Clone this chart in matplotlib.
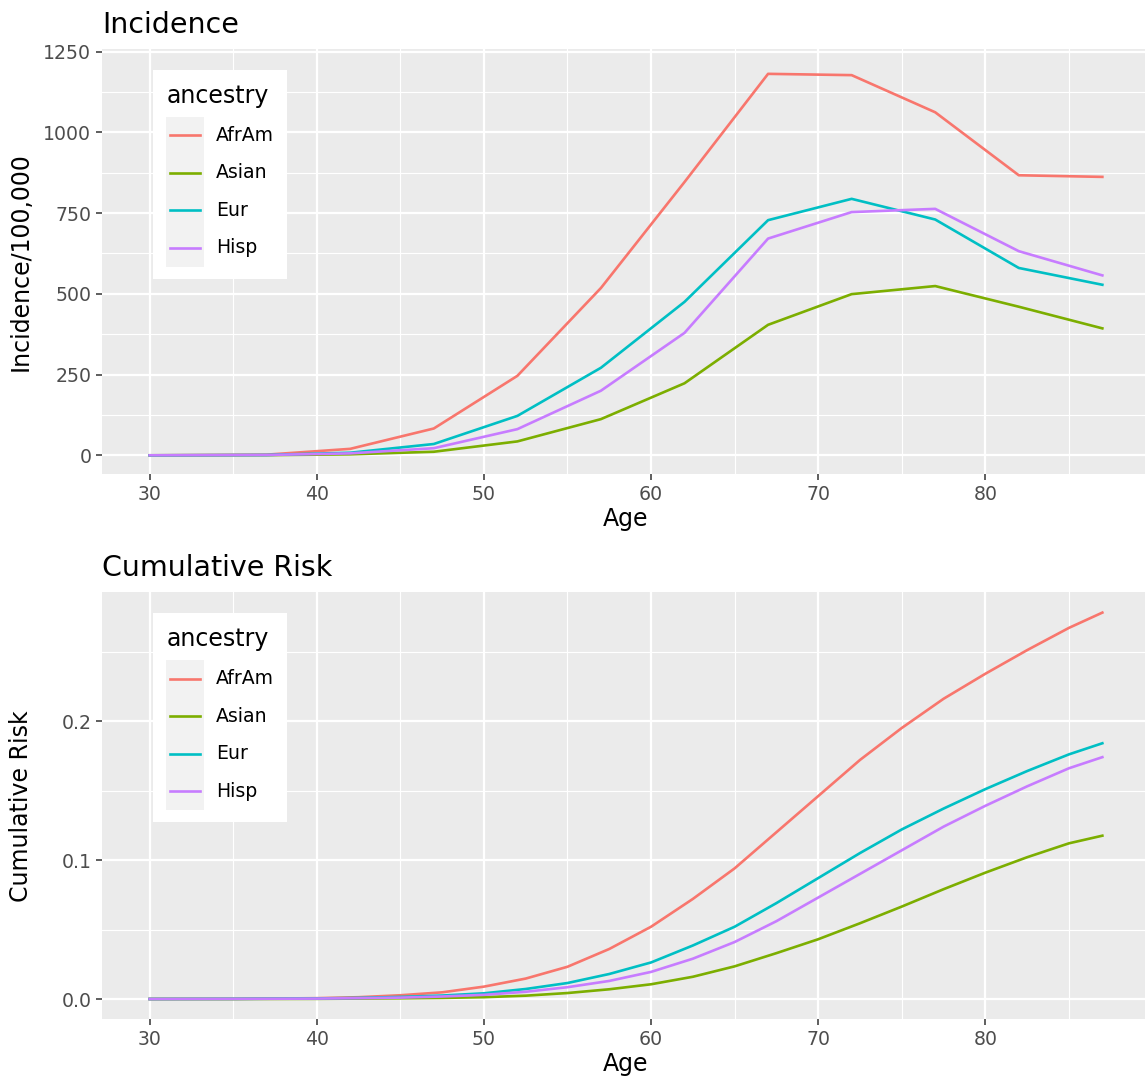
import matplotlib
matplotlib.use("Agg")
import matplotlib.pyplot as plt
from matplotlib.lines import Line2D
from matplotlib.patches import Rectangle

W, H = 1145, 1079

groups = ["AfrAm", "Asian", "Eur", "Hisp"]
colors = ["#F8766D", "#7CAE00", "#00BFC4", "#C77CFF"]

# incidence per 100,000 at age-group points
inc_age = [30, 37, 42, 47, 52, 57, 62, 67, 72, 77, 82, 87]
inc_afram = [0, 2, 20, 83, 246, 518, 846, 1181, 1177, 1062, 867, 862]
inc_asian = [0, 0.5, 3, 11, 43, 112, 223, 404, 499, 524, 460, 393]
inc_eur = [0, 1, 8, 35, 122, 271, 475, 728, 794, 730, 580, 528]
inc_hisp = [0, 1, 6, 22, 81, 200, 379, 671, 753, 763, 632, 557]

# cumulative risk
cum_age = [30, 35, 40, 42.5, 45, 47.5, 50, 52.5, 55, 57.5, 60, 62.5, 65, 67.5, 70,
           72.5, 75, 77.5, 80, 82.5, 85, 87]
cum_afram = [0, 0.0001, 0.0006, 0.0013, 0.0027, 0.0048, 0.0089, 0.0147, 0.0232, 0.036, 0.052,
             0.072, 0.094, 0.120, 0.146, 0.172, 0.195, 0.216, 0.234, 0.251, 0.267, 0.278]
cum_asian = [0, 0, 0.0001, 0.0003, 0.0005, 0.0008, 0.0013, 0.0024, 0.0043, 0.007, 0.0106,
             0.016, 0.0235, 0.033, 0.043, 0.0545, 0.0665, 0.079, 0.0909, 0.102, 0.112, 0.1175]
cum_eur = [0, 0.0001, 0.0004, 0.0008, 0.0015, 0.0025, 0.0041, 0.0072, 0.0115, 0.018, 0.0263,
           0.0385, 0.052, 0.069, 0.087, 0.105, 0.122, 0.137, 0.151, 0.164, 0.176, 0.184]
cum_hisp = [0, 0.0001, 0.0003, 0.0006, 0.001, 0.0018, 0.003, 0.0052, 0.0085, 0.013, 0.0195,
            0.029, 0.041, 0.056, 0.073, 0.090, 0.107, 0.124, 0.139, 0.153, 0.166, 0.174]

x_ticks = [30, 40, 50, 60, 70, 80]
inc_ticks = [0, 250, 500, 750, 1000, 1250]
cum_ticks = [0.0, 0.1, 0.2]
cum_ticklabels = ["0.0", "0.1", "0.2"]

GREY_BG = "#EBEBEB"
TICK_COL = "#4D4D4D"
TICK_LINE = "#333333"
LW = 1.9


def px_rect(left, top, right, bottom):
    return [left / W, 1 - bottom / H, (right - left) / W, (bottom - top) / H]


def style_axes(ax, xlim, ylim, yticks, yticklabels=None):
    ax.set_facecolor(GREY_BG)
    for s in ax.spines.values():
        s.set_visible(False)
    ax.set_xlim(*xlim)
    ax.set_ylim(*ylim)
    ax.set_xticks(x_ticks)
    ax.set_xticks([35, 45, 55, 65, 75, 85], minor=True)
    ax.set_yticks(yticks)
    if yticklabels is not None:
        ax.set_yticklabels(yticklabels)
    step = yticks[1] - yticks[0]
    ymin = [(a + b) / 2 for a, b in zip(yticks[:-1], yticks[1:])]
    if yticks[-1] + step / 2 < ylim[1]:
        ymin.append(yticks[-1] + step / 2)
    if yticks[0] - step / 2 > ylim[0]:
        ymin.insert(0, yticks[0] - step / 2)
    ax.set_yticks(ymin, minor=True)
    ax.grid(which="major", color="white", linewidth=1.6)
    ax.grid(which="minor", color="white", linewidth=0.8)
    ax.set_axisbelow(True)
    ax.tick_params(which="major", length=4.3, width=1.1, color=TICK_LINE,
                   labelcolor=TICK_COL, labelsize=13.6, pad=3.4)
    ax.tick_params(which="minor", length=0)


def draw_legend(fig, top):
    left, right = 153, 287
    fig.add_artist(Rectangle((left / W, 1 - (top + 209) / H), (right - left) / W, 209 / H,
                             transform=fig.transFigure, facecolor="white", edgecolor="none", zorder=5))
    fig.text(167 / W, 1 - (top + 26) / H, "ancestry", fontsize=17, va="center", ha="left", zorder=6)
    key_top = top + 46.7
    fig.add_artist(Rectangle((165.5 / W, 1 - (key_top + 150) / H), 38.5 / W, 150 / H,
                             transform=fig.transFigure, facecolor="#F2F2F2", edgecolor="none", zorder=6))
    for i, (g, c) in enumerate(zip(groups, colors)):
        yc = key_top + 18.75 + 37.5 * i
        fig.add_artist(Line2D([170 / W, 200 / W], [1 - yc / H, 1 - yc / H], transform=fig.transFigure,
                              color=c, linewidth=LW, zorder=7))
        fig.text(216 / W, 1 - yc / H, g, fontsize=13.6, va="center", ha="left", zorder=7)


fig = plt.figure(figsize=(W / 100, H / 100), dpi=100)
fig.patch.set_facecolor("white")

xlim = (27.15, 89.85)
ax_w = 1150 - 102

ax1 = fig.add_axes(px_rect(102, 49.3, 1150, 474.3))
style_axes(ax1, xlim, (-58.8, 1257), inc_ticks)
for ys, c in zip([inc_afram, inc_asian, inc_eur, inc_hisp], colors):
    ax1.plot(inc_age, ys, color=c, linewidth=LW)
ax1.set_xlabel("Age", fontsize=17, labelpad=2)
ax1.set_ylabel("Incidence/100,000", fontsize=17)
ax1.yaxis.set_label_coords((33 - 102) / ax_w, 0.5)
ax1.set_title("Incidence", loc="left", fontsize=20.5, pad=12)

ax2 = fig.add_axes(px_rect(102, 592.3, 1150, 1019.3))
style_axes(ax2, xlim, (-0.0146, 0.2926), cum_ticks, cum_ticklabels)
for ys, c in zip([cum_afram, cum_asian, cum_eur, cum_hisp], colors):
    ax2.plot(cum_age, ys, color=c, linewidth=LW)
ax2.set_xlabel("Age", fontsize=17, labelpad=2)
ax2.set_ylabel("Cumulative Risk", fontsize=17)
ax2.yaxis.set_label_coords((33 - 102) / ax_w, 0.5)
ax2.set_title("Cumulative Risk", loc="left", fontsize=20.5, pad=12)

draw_legend(fig, 70)
draw_legend(fig, 613.3)

fig.savefig("out.png", dpi=100)
